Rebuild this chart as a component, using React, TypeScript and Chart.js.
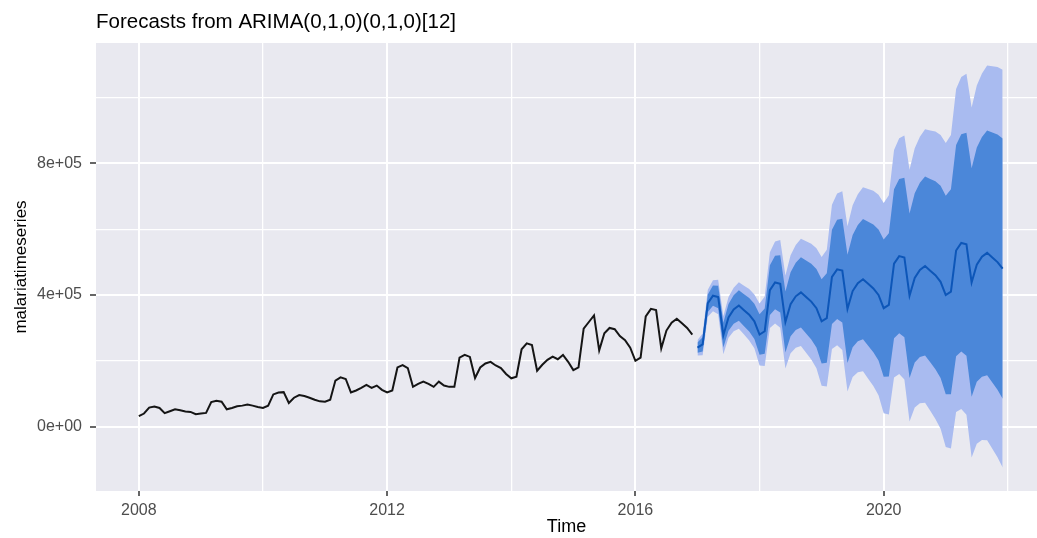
import React, { useEffect, useRef } from "react";
import { Chart, registerables } from "chart.js";

Chart.register(...registerables);

// ---- Text ----
const TITLE = "Forecasts from ARIMA(0,1,0)(0,1,0)[12]";
const X_TITLE = "Time";
const Y_TITLE = "malariatimeseries";

// ---- Time axis (monthly series) ----
const HIST_START = 2008; // Jan 2008
const FC_START = 2017; // Jan 2017
const MONTHS_PER_YEAR = 12;

// ---- Ticks ----
const X_TICKS = [2008, 2010, 2012, 2014, 2016, 2018, 2020, 2022];
const X_TICK_LABELS = ["2008", "", "2012", "", "2016", "", "2020", ""];
const Y_TICKS = [0, 200, 400, 600, 800, 1000]; // thousands
const Y_TICK_LABELS = ["0e+00", "", "4e+05", "", "8e+05", ""];

// ---- Observed series (thousands), Jan 2008 .. Dec 2016 ----
const history = [
  32, 40, 58, 61, 57, 41, 47, 53, 50, 46, 45, 38,
  40, 42, 75, 79, 76, 53, 57, 62, 64, 67, 64, 60,
  57, 64, 98, 104, 105, 72, 88, 96, 93, 88, 82, 77,
  76, 82, 140, 150, 145, 104, 110, 118, 127, 118, 125, 112,
  104, 110, 180, 187, 178, 121, 130, 137, 130, 121, 137, 125,
  121, 121, 210, 218, 212, 148, 180, 192, 197, 186, 178, 160,
  147, 152, 235, 253, 248, 170, 188, 203, 213, 205, 218, 197,
  172, 180, 298, 318, 338, 232, 284, 300, 296, 275, 263, 240,
  200, 210, 335, 358, 354, 238, 292, 316, 328, 314, 300, 280,
];

// ---- Forecast (thousands), Jan 2017 .. Dec 2021 ----
const fcMean = [
  240, 250, 375, 398, 394, 278, 332, 356, 368, 354, 340, 320,
  280, 290, 415, 438, 434, 318, 372, 396, 408, 394, 380, 360,
  320, 330, 455, 478, 474, 358, 412, 436, 448, 434, 420, 400,
  360, 370, 495, 518, 514, 398, 452, 476, 488, 474, 460, 440,
  400, 410, 535, 558, 554, 438, 492, 516, 528, 514, 500, 480,
];
const lo80 = [
  224.6, 228.2, 348.3, 367.2, 359.7, 240.3, 291.4, 312.6, 321.9, 305.4, 289, 266.7,
  218.5, 221.2, 339.6, 356.6, 347, 225.7, 274.7, 294, 301.5, 283.1, 264.9, 240.8,
  192.2, 194.2, 311.6, 327.3, 316.4, 193.8, 241.4, 259.3, 265.4, 245.6, 226.1, 200.7,
  151.4, 152.5, 268.9, 283.7, 271.8, 148.1, 194.7, 211.4, 216.3, 195.5, 174.7, 148.2,
  98.2, 98.6, 214.2, 228.1, 215.3, 90.7, 136.2, 152, 156.1, 134.1, 112.5, 84.9,
];
const hi80 = [
  255.4, 271.8, 401.7, 428.8, 428.3, 315.7, 372.6, 399.4, 414.1, 402.6, 391, 373.3,
  341.5, 358.8, 490.4, 519.4, 521, 410.3, 469.3, 498, 514.5, 504.9, 495.1, 479.2,
  447.8, 465.8, 598.4, 628.7, 631.6, 522.2, 582.6, 612.7, 630.6, 622.4, 613.9, 599.3,
  568.6, 587.5, 721.1, 752.3, 756.2, 647.9, 709.3, 740.6, 759.7, 752.5, 745.3, 731.8,
  701.8, 721.4, 855.8, 887.9, 892.7, 785.3, 847.8, 880, 899.9, 893.9, 887.5, 875.1,
];
const lo95 = [
  216.5, 216.7, 334.2, 351, 341.5, 220.4, 269.9, 289.6, 297.4, 279.7, 262, 238.5,
  185.9, 184.7, 299.8, 313.5, 300.9, 176.9, 223.2, 240, 245.1, 224.5, 204, 177.7,
  124.6, 122.2, 235.7, 247.5, 232.9, 106.9, 151.1, 165.7, 168.7, 145.9, 123.5, 95.2,
  40.9, 37.4, 149.3, 159.7, 143.6, 15.8, 58.4, 71.3, 72.5, 48.1, 23.7, -6.3,
  -61.6, -66.3, 44.4, 53.5, 36, -93.2, -52.1, -40.6, -40.8, -66.9, -92.7, -124.3,
];
const hi95 = [
  263.5, 283.3, 415.8, 445, 446.5, 335.6, 394.1, 422.4, 438.6, 428.3, 418, 401.5,
  374.1, 395.3, 530.2, 562.5, 567.1, 459.1, 520.8, 552, 570.9, 563.5, 556, 542.3,
  515.4, 537.8, 674.3, 708.5, 715.1, 609.1, 672.9, 706.3, 727.3, 722.1, 716.5, 704.8,
  679.1, 702.6, 840.7, 876.3, 884.4, 780.2, 845.6, 880.7, 903.5, 899.9, 896.3, 886.3,
  861.6, 886.3, 1025.6, 1062.5, 1072, 969.2, 1036.1, 1072.6, 1096.8, 1094.9, 1092.7, 1084.3,
];

const FONT = "'Liberation Sans', Arial, Helvetica, sans-serif";

const toPoints = (start: number, values: number[]) =>
  values.map((v, i) => ({ x: start + i / MONTHS_PER_YEAR, y: v }));

const panelBackground = {
  id: "panelBackground",
  beforeDraw(chart: any) {
    const { ctx, chartArea: a } = chart;
    ctx.save();
    ctx.fillStyle = "#e9e9f0";
    ctx.fillRect(a.left, a.top, a.right - a.left, a.bottom - a.top);
    ctx.restore();
  },
};

export default function App() {
  const canvasRef = useRef<HTMLCanvasElement | null>(null);

  useEffect(() => {
    if (!canvasRef.current) return;
    Chart.defaults.font.family = FONT;

    const bandStyle = { pointRadius: 0, borderWidth: 0, tension: 0 };

    const chart = new Chart(canvasRef.current, {
      type: "line",
      data: {
        datasets: [
          {
            label: "observed",
            data: toPoints(HIST_START, history),
            borderColor: "#151515",
            borderWidth: 2,
            pointRadius: 0,
            tension: 0,
            fill: false,
          },
          {
            label: "forecast",
            data: toPoints(FC_START, fcMean),
            borderColor: "#0d56b8",
            borderWidth: 2,
            pointRadius: 0,
            tension: 0,
            fill: false,
          },
          {
            label: "hi80",
            data: toPoints(FC_START, hi80),
            backgroundColor: "#4b87d9",
            fill: "+1",
            ...bandStyle,
          },
          {
            label: "lo80",
            data: toPoints(FC_START, lo80),
            fill: false,
            ...bandStyle,
          },
          {
            label: "hi95",
            data: toPoints(FC_START, hi95),
            backgroundColor: "#a9bbf0",
            fill: "+1",
            ...bandStyle,
          },
          {
            label: "lo95",
            data: toPoints(FC_START, lo95),
            fill: false,
            ...bandStyle,
          },
        ],
      },
      options: {
        animation: false,
        responsive: false,
        devicePixelRatio: 1,
        layout: { padding: 0 },
        plugins: {
          legend: { display: false },
          tooltip: { enabled: false },
          title: {
            display: true,
            text: TITLE,
            align: "start",
            fullSize: false,
            color: "#000000",
            font: { family: FONT, size: 20.5, weight: "normal" },
            padding: { top: 10.3, bottom: 8.1 },
          },
        },
        scales: {
          x: {
            type: "linear",
            bounds: "data",
            min: 2007.31,
            max: 2022.47,
            afterBuildTicks: (scale: any) => {
              scale.ticks = X_TICKS.map((v) => ({ value: v }));
            },
            afterFit: (scale: any) => {
              scale.height = 47;
            },
            ticks: {
              autoSkip: false,
              maxRotation: 0,
              padding: 5,
              color: "#4d4d4d",
              font: { family: FONT, size: 16 },
              callback: (_v: any, i: number) => X_TICK_LABELS[i],
            },
            grid: {
              color: "#ffffff",
              lineWidth: (ctx: any) => (ctx.index % 2 === 0 ? 2 : 1.3),
              drawTicks: true,
              tickLength: 5,
              tickWidth: 1.5,
              tickColor: (ctx: any) =>
                ctx.index % 2 === 0 ? "#333333" : "rgba(0,0,0,0)",
            },
            border: { display: false },
            title: {
              display: true,
              text: X_TITLE,
              color: "#000000",
              font: { family: FONT, size: 18 },
              padding: { top: 0, bottom: 0 },
            },
          },
          y: {
            type: "linear",
            bounds: "data",
            min: -195.3,
            max: 1165.4,
            afterBuildTicks: (scale: any) => {
              scale.ticks = Y_TICKS.map((v) => ({ value: v }));
            },
            afterFit: (scale: any) => {
              scale.width = 96;
            },
            ticks: {
              autoSkip: false,
              padding: 8,
              color: "#4d4d4d",
              font: { family: FONT, size: 16 },
              callback: (_v: any, i: number) => Y_TICK_LABELS[i],
            },
            grid: {
              color: "#ffffff",
              lineWidth: (ctx: any) => (ctx.index % 2 === 0 ? 2 : 1.3),
              drawTicks: true,
              tickLength: 6,
              tickWidth: 1.5,
              tickColor: (ctx: any) =>
                ctx.index % 2 === 0 ? "#333333" : "rgba(0,0,0,0)",
            },
            border: { display: false },
            title: {
              display: true,
              text: Y_TITLE,
              color: "#000000",
              font: { family: FONT, size: 17 },
              padding: { top: 11, bottom: 0 },
            },
          },
        },
      },
      plugins: [panelBackground],
    });

    return () => chart.destroy();
  }, []);

  return (
    <div
      style={{
        position: "fixed",
        left: 0,
        top: 0,
        width: 1037,
        height: 538,
        background: "#ffffff",
      }}
    >
      <canvas ref={canvasRef} width={1037} height={538} />
    </div>
  );
}
